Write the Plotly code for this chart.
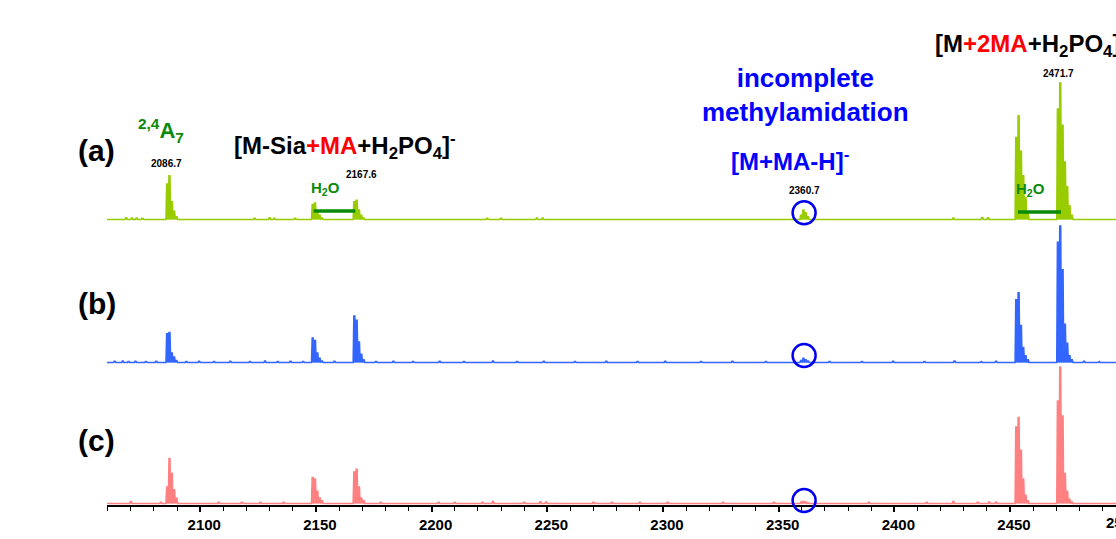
import plotly.graph_objects as go

# ---------------- data ----------------
iso_mz = [2085.7, 2086.7, 2087.7, 2088.7, 2089.7,
          2148.6, 2149.6, 2150.6, 2151.6, 2152.6,
          2166.6, 2167.6, 2168.6, 2169.6, 2170.6,
          2359.7, 2360.7, 2361.7, 2362.7,
          2452.7, 2453.7, 2454.7, 2455.7, 2456.7, 2457.7,
          2470.7, 2471.7, 2472.7, 2473.7, 2474.7, 2475.7, 2476.7]

int_a = [26, 32, 13, 6, 2,
         11, 12, 6, 3, 1,
         13, 14, 7, 3, 1,
         3, 7, 5, 2,
         60, 76, 50, 32, 16, 5,
         81, 100, 69, 42, 24, 10, 3]

int_b = [21, 22, 7, 4, 1.5,
         18, 16, 7, 3, 1,
         34, 31, 15, 6, 2,
         1.5, 3, 2, 1,
         46, 51, 27, 11, 5, 2,
         88, 100, 68, 28, 14, 5, 2]

int_c = [12, 33, 22, 10, 4,
         19, 18, 9, 4, 2,
         23, 25, 12, 4, 2,
         1, 1.5, 1, 0.5,
         56, 63, 39, 18, 6, 2,
         75, 100, 64, 22, 9, 3, 1]

noise_a_mz = [2068.0, 2070.5, 2072.5, 2075.0, 2123.5, 2130.0, 2132.0, 2141.0,
              2224.0, 2230.0, 2245.5, 2248.0, 2425.5, 2438.0, 2440.5]
noise_a_int = [1.2, 1.0, 1.0, 0.8, 0.8, 1.2, 0.8, 0.8,
               0.8, 0.8, 1.0, 1.0, 1.0, 1.5, 1.2]

noise_b_mz = [2063.0, 2066.5, 2069.0, 2072.0, 2076.5, 2081.0, 2094.0, 2099.5,
              2106.0, 2113.0, 2121.5, 2128.0, 2133.5, 2139.0, 2144.5, 2158.0,
              2176.0, 2183.5, 2192.0, 2203.5, 2214.0, 2226.5, 2237.0, 2248.5,
              2262.0, 2275.5, 2289.0, 2301.0, 2316.5, 2330.0, 2344.5, 2372.0,
              2386.0, 2399.5, 2413.0, 2426.0, 2437.5, 2444.0, 2482.0, 2488.5]
noise_b_int = [0.8, 1.0, 0.7, 0.8, 0.7, 0.8, 0.7, 0.8,
               0.7, 0.8, 0.7, 1.0, 0.7, 0.8, 0.7, 0.8,
               0.7, 0.8, 0.7, 0.8, 0.7, 1.0, 0.7, 0.8,
               0.7, 0.8, 0.7, 0.8, 0.7, 0.8, 0.7, 0.7,
               0.7, 0.8, 0.7, 1.0, 0.7, 0.8, 0.8, 0.7]

noise_c_mz = [2070.0, 2083.0, 2108.0, 2118.0, 2126.0, 2136.0, 2178.0, 2203.0,
              2210.0, 2222.0, 2226.5, 2240.0, 2247.0, 2249.5, 2270.0, 2278.0,
              2290.0, 2302.0, 2326.0, 2348.0, 2389.0, 2414.0, 2425.5, 2436.0,
              2441.0, 2444.0]
noise_c_int = [1.5, 0.8, 0.8, 0.8, 0.8, 0.8, 0.8, 0.8,
               0.8, 0.8, 1.5, 0.8, 1.2, 1.0, 0.8, 0.8,
               0.8, 0.8, 0.8, 0.8, 0.8, 0.8, 1.5, 0.8,
               1.0, 1.0]

x_range = [2059.7, 2495.8]
major_dtick = 50
minor_dtick = 10
h2o_loss_pairs = [(2149.0, 2167.0), (2453.4, 2472.0)]
circle_mz = 2361.0

# ---------------- layout constants (pixels) ----------------
W, H = 1116, 539
ML, MB = 107, 34
PLOT_H = H - MB          # 505
PLOT_W = W - ML          # 1009
SCALE = 1.365            # px per % intensity
LABEL_SHIFT = 4          # tick labels sit slightly right of their ticks
panels = [  # (top px, bottom px, baseline px)
    (0, 223, 219.5),
    (223, 366, 362.5),
    (366, 505, 503.5),
]
colors = ["#99cc00", "#3366ff", "#ff8080"]
FONT = "Arial, Liberation Sans, sans-serif"
GREEN = "#0a8a0a"
BLUE = "#0000ff"


def py(px):
    return (PLOT_H - px) / PLOT_H


def pxx(px):
    return (px - ML) / PLOT_W


def profile(mz, inten, nmz, nint):
    pts = sorted(list(zip(mz, inten)) + list(zip(nmz, nint)))
    xs, ys = [x_range[0]], [0]
    for m, i in pts:
        xs += [m - 0.5, m - 0.2, m + 0.2, m + 0.5]
        ys += [0, i, i, 0]
    xs.append(x_range[1])
    ys.append(0)
    return xs, ys


series = [(int_a, noise_a_mz, noise_a_int),
          (int_b, noise_b_mz, noise_b_int),
          (int_c, noise_c_mz, noise_c_int)]

fig = go.Figure()
for k, (ints, nmz, nint) in enumerate(series):
    xs, ys = profile(iso_mz, ints, nmz, nint)
    yname = "y" if k == 0 else f"y{k+1}"
    fig.add_trace(go.Scatter(x=xs, y=ys, mode="lines", yaxis=yname, xaxis="x",
                             line=dict(color=colors[k], width=1.6),
                             fill="tozeroy", fillcolor=colors[k],
                             hoverinfo="skip", showlegend=False))

layout_axes = {}
for k, (top, bot, base) in enumerate(panels):
    key = "yaxis" if k == 0 else f"yaxis{k+1}"
    layout_axes[key] = dict(domain=[py(bot), py(top)],
                            range=[-(bot - base) / SCALE, (base - top) / SCALE],
                            visible=False, fixedrange=True)

fig.update_layout(
    width=W, height=H,
    margin=dict(l=ML, r=0, t=0, b=MB),
    paper_bgcolor="white", plot_bgcolor="white",
    font=dict(family=FONT, color="black"),
    xaxis=dict(range=x_range, anchor="y3", showline=True, linecolor="black",
               linewidth=1.5, ticks="outside", ticklen=5, tickwidth=1.5,
               tickcolor="black", tick0=2100, dtick=major_dtick,
               showgrid=False, zeroline=False, fixedrange=True,
               ticklabelshift=LABEL_SHIFT,
               tickfont=dict(family=FONT, size=15, color="black", weight="bold"),
               minor=dict(dtick=minor_dtick, tick0=2100, ticks="outside",
                          ticklen=4, tickwidth=1, tickcolor="black", showgrid=False)),
    **layout_axes,
)


def ann(text, xpx, ypx, size, color="black", xanchor="center"):
    fig.add_annotation(text=text, xref="paper", yref="paper", x=pxx(xpx), y=py(ypx),
                       xanchor=xanchor, yanchor="middle", showarrow=False,
                       font=dict(family=FONT, size=size, color=color, weight="bold"))


red = lambda s: f"<span style='color:#ff0000'>{s}</span>"

ann("(a)", 76, 150, 30, xanchor="left")
ann("(b)", 76, 303, 30, xanchor="left")
ann("(c)", 76, 440, 30, xanchor="left")
ann("<sup>2,4</sup>A<sub>7</sub>", 136, 130, 22, GREEN, xanchor="left")
ann("2086.7", 166, 164, 10)
ann("[M-Sia" + red("+MA") + "+H<sub>2</sub>PO<sub>4</sub>]<sup>-</sup>", 232, 146, 24, xanchor="left")
ann("2167.6", 361, 174, 10)
ann("H<sub>2</sub>O", 325, 188, 15, GREEN)
ann("incomplete<br>methylamidation", 805, 95, 26, BLUE)
ann("[M+MA-H]<sup>-</sup>", 790, 160, 24, BLUE)
ann("2360.7", 804, 190, 10)
ann("[M" + red("+2MA") + "+H<sub>2</sub>PO<sub>4</sub>]<sup>-</sup>", 933, 44, 24, xanchor="left")
ann("2471.7", 1058, 73, 10)
ann("H<sub>2</sub>O", 1030, 189, 15, GREEN)
# partially visible 2500 tick label at the right edge
ann("2500", 1104, 522, 15, xanchor="left")

# H2O loss brackets
for (x0, x1), ypx in zip(h2o_loss_pairs, [211, 212]):
    fig.add_shape(type="line", xref="x", yref="paper", x0=x0, x1=x1,
                  y0=py(ypx), y1=py(ypx), line=dict(color=GREEN, width=3.5))

# circles marking incomplete methylamidation
for cy in [212.7, 355.5, 500.5]:
    fig.add_shape(type="circle", xref="x", yref="paper",
                  xsizemode="pixel", ysizemode="pixel",
                  xanchor=circle_mz, yanchor=py(cy),
                  x0=-11.5, x1=11.5, y0=-11.5, y1=11.5,
                  line=dict(color="#0000ee", width=2.5))

fig.write_html("out.html", config={"displayModeBar": False},
               post_script="document.body.style.margin='0';document.body.style.overflow='hidden';")
